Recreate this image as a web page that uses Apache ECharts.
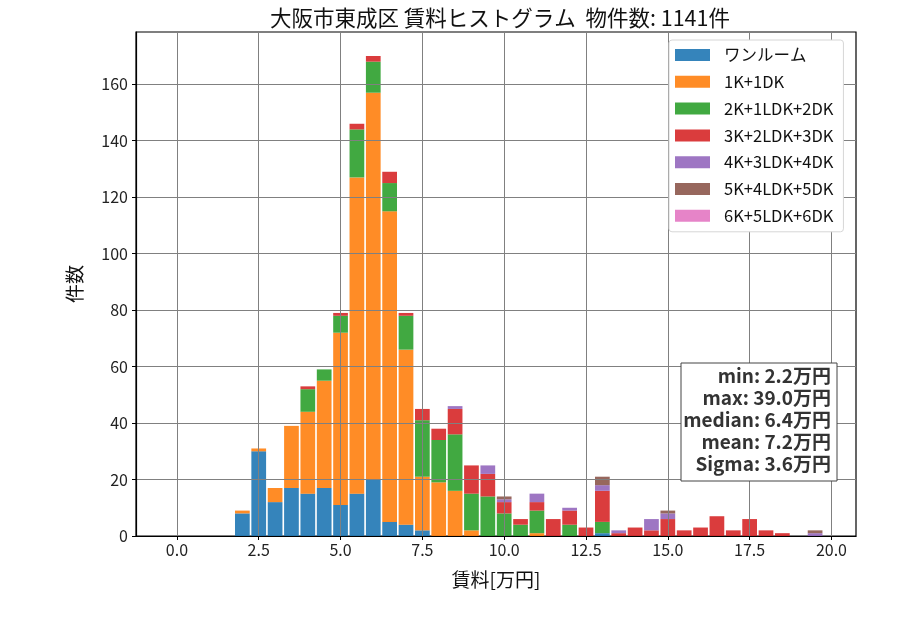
<!DOCTYPE html>
<html>
<head>
<meta charset="UTF-8">
<script src="https://cdn.jsdelivr.net/npm/echarts@6/dist/echarts.min.js"></script>
<style>
  html, body { margin: 0; padding: 0; background: #fff; }
  #main { width: 900px; height: 630px; }
</style>
</head>
<body>
<div id="main"></div>
<script>
// bin centres [万円], bin width 0.5
var binCenters = [2.0, 2.5, 3.0, 3.5, 4.0, 4.5, 5.0, 5.5, 6.0, 6.5, 7.0, 7.5, 8.0, 8.5, 9.0, 9.5,
  10.0, 10.5, 11.0, 11.5, 12.0, 12.5, 13.0, 13.5, 14.0, 14.5, 15.0, 15.5, 16.0, 16.5, 17.0, 17.5,
  18.0, 18.5, 19.0, 19.5];

var oneRoom = [8, 30, 12, 17, 15, 17, 11, 15, 20, 5, 4, 2, 0, 0, 0, 0,
  0, 0, 0, 0, 0, 0, 1, 0, 0, 0, 0, 0, 0, 0, 0, 0, 0, 0, 0, 0];
var k1 = [1, 1, 5, 22, 29, 38, 61, 112, 137, 110, 62, 19, 19, 16, 2, 0,
  0, 0, 1, 0, 0, 0, 0, 0, 0, 0, 0, 0, 0, 0, 0, 0, 0, 0, 0, 0];
var k2 = [0, 0, 0, 0, 8, 4, 6, 17, 11, 10, 12, 20, 15, 20, 13, 14,
  8, 4, 8, 0, 4, 0, 4, 0, 0, 0, 0, 0, 0, 0, 0, 0, 0, 0, 0, 0];
var k3 = [0, 0, 0, 0, 1, 0, 1, 2, 2, 4, 1, 4, 4, 9, 10, 8,
  4, 2, 3, 6, 5, 3, 11, 1, 3, 2, 6, 2, 3, 7, 2, 6, 2, 1, 0, 0];
var k4 = [0, 0, 0, 0, 0, 0, 0, 0, 0, 0, 0, 0, 0, 1, 0, 3,
  1, 0, 3, 0, 1, 0, 2, 1, 0, 4, 2, 0, 0, 0, 0, 0, 0, 0, 0, 1];
var k5 = [0, 0, 0, 0, 0, 0, 0, 0, 0, 0, 0, 0, 0, 0, 0, 0,
  1, 0, 0, 0, 0, 0, 3, 0, 0, 0, 1, 0, 0, 0, 0, 0, 0, 0, 0, 1];
var k6 = [0, 0, 0, 0, 0, 0, 0, 0, 0, 0, 0, 0, 0, 0, 0, 0,
  0, 0, 0, 0, 0, 0, 0, 0, 0, 0, 0, 0, 0, 0, 0, 0, 0, 0, 0, 0];

var seriesNames = ['ワンルーム', '1K+1DK', '2K+1LDK+2DK', '3K+2LDK+3DK', '4K+3LDK+4DK', '5K+4LDK+5DK', '6K+5LDK+6DK'];
var seriesValues = [oneRoom, k1, k2, k3, k4, k5, k6];
var colors = ['#1f77b4', '#ff7f0e', '#2ca02c', '#d62728', '#9467bd', '#8c564b', '#e377c2'];

var xTicks = [0, 2.5, 5, 7.5, 10, 12.5, 15, 17.5, 20];
var yTicks = [0, 20, 40, 60, 80, 100, 120, 140, 160];
var statLines = ['min: 2.2万円', 'max: 39.0万円', 'median: 6.4万円', 'mean: 7.2万円', 'Sigma: 3.6万円'];

var FONT = '"Noto Sans CJK JP", "Noto Sans", sans-serif';

// hidden category axis: one slot per 0.5 bin, padded so it spans -1.25 .. 20.75
var slots = [];
for (var k = -2; k <= 41; k++) slots.push((k * 0.5).toFixed(1));

var chart = echarts.init(document.getElementById('main'));

var series = seriesNames.map(function (name, i) {
  return {
    name: name,
    type: 'bar',
    stack: 'total',
    xAxisIndex: 0,
    barWidth: '90%',
    itemStyle: { color: colors[i], opacity: 0.9 },
    emphasis: { disabled: true },
    data: slots.map(function (s) {
      var j = binCenters.indexOf(parseFloat(s));
      return j < 0 ? 0 : seriesValues[i][j];
    })
  };
});

var option = {
  animation: false,
  textStyle: { fontFamily: FONT },
  title: {
    text: '大阪市東成区 賃料ヒストグラム  物件数: 1141件',
    left: 495,
    textAlign: 'center',
    top: 2,
    textStyle: { fontSize: 21.5, fontWeight: 'normal', color: '#111', fontFamily: FONT }
  },
  grid: {
    left: 136, right: 44, top: 32, bottom: 94,
    outerBoundsMode: 'none',
    containLabel: false,
    show: true, borderColor: '#000', borderWidth: 1.2, backgroundColor: 'transparent'
  },
  legend: {
    orient: 'vertical',
    left: 669, top: 40,
    padding: [5, 10, 6, 6],
    itemWidth: 35, itemHeight: 12,
    itemGap: 6.8,
    icon: 'rect',
    backgroundColor: '#fff',
    borderColor: '#d6d6d6', borderWidth: 1, borderRadius: 3,
    data: seriesNames,
    textStyle: { fontSize: 16.5, color: '#111', lineHeight: 20, padding: [0, 0, 0, 9], fontFamily: FONT }
  },
  xAxis: [
    {
      type: 'category',
      data: slots,
      boundaryGap: true,
      position: 'top',
      show: false
    },
    {
      type: 'value',
      min: -1.25, max: 20.75,
      position: 'bottom',
      z: 3,
      name: '賃料[万円]',
      nameLocation: 'middle',
      nameGap: 34,
      nameTextStyle: { fontSize: 19, color: '#111' },
      axisLine: { show: true, onZero: false, lineStyle: { color: '#000', width: 1.2 } },
      axisTick: { show: true, length: 4, customValues: xTicks, lineStyle: { color: '#000' } },
      axisLabel: {
        customValues: xTicks, fontSize: 16, color: '#222', margin: 6,
        formatter: function (v) { return v.toFixed(1); }
      },
      splitLine: { show: true, lineStyle: { color: '#808080', width: 1 } }
    }
  ],
  yAxis: {
    type: 'value',
    min: 0, max: 178.5,
    z: 3,
    name: '件数',
    nameLocation: 'middle',
    nameGap: 52,
    nameTextStyle: { fontSize: 19, color: '#111' },
    axisLine: { show: true, onZero: false, lineStyle: { color: '#000', width: 1.2 } },
    axisTick: { show: true, length: 4, customValues: yTicks, lineStyle: { color: '#000' } },
    axisLabel: { customValues: yTicks, fontSize: 16, color: '#222', margin: 8 },
    splitLine: { show: true, lineStyle: { color: '#808080', width: 1 } }
  },
  graphic: [
    {
      type: 'rect', z: 20,
      shape: { x: 681, y: 363, width: 156, height: 118 },
      style: { fill: '#fff', stroke: '#444', lineWidth: 1 }
    },
    {
      type: 'text', z: 21,
      x: 831, y: 365,
      style: {
        text: statLines.join('\n'),
        align: 'right', verticalAlign: 'top',
        font: 'bold 19px ' + FONT,
        lineHeight: 22,
        fill: '#333'
      }
    }
  ],
  series: series
};

chart.setOption(option);
</script>
</body>
</html>
